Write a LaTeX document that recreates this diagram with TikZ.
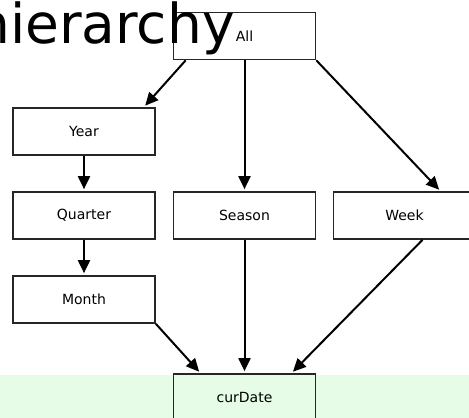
\documentclass[tikz,border=0pt]{standalone}
\usepackage{fontspec}
\setmainfont{DejaVu Sans}
\usetikzlibrary{arrows.meta}
\definecolor{bandgreen}{RGB}{230,252,230}
\begin{document}
\begin{tikzpicture}[x=1pt,y=-1pt,
  box/.style={draw=black!85,line width=1.7pt,minimum width=142pt,minimum height=47pt,inner sep=0pt,
    font=\fontsize{14}{16}\selectfont},
  conn/.style={line width=2pt,-{Triangle[length=13pt,width=12pt]},shorten >=2pt}]
\useasboundingbox (0,0) rectangle (469,418);
\fill[bandgreen] (0,375) rectangle (469,418);
\node[box] (all) at (244.5,36) {All};
\node[box] (year) at (84,131.5) {Year};
\node[box] (quarter) at (84,215.5) {Quarter};
\node[box] (season) at (244.5,215.5) {Season};
\node[box] (week) at (404.5,215.5) {Week};
\node[box] (month) at (84,299.5) {Month};
\node[box,fill=bandgreen] (cur) at (244.5,397.5) {curDate};
\draw[conn] ([xshift=13pt]all.south west) -- ([xshift=-12pt]year.north east);
\draw[conn] (all.south) -- (season.north);
\draw[conn] (all.south east) -- ([xshift=36pt]week.north);
\draw[conn] (year.south) -- (quarter.north);
\draw[conn] (quarter.south) -- (month.north);
\draw[conn] (month.south east) -- ([xshift=-44pt]cur.north);
\draw[conn] (season.south) -- (cur.north);
\draw[conn] ([xshift=18pt]week.south) -- ([xshift=47pt]cur.north);
\node[anchor=base west,inner sep=0pt,font=\fontsize{55}{60}\selectfont] (title) at (-25,43) {hierarchy};
\end{tikzpicture}
\end{document}
